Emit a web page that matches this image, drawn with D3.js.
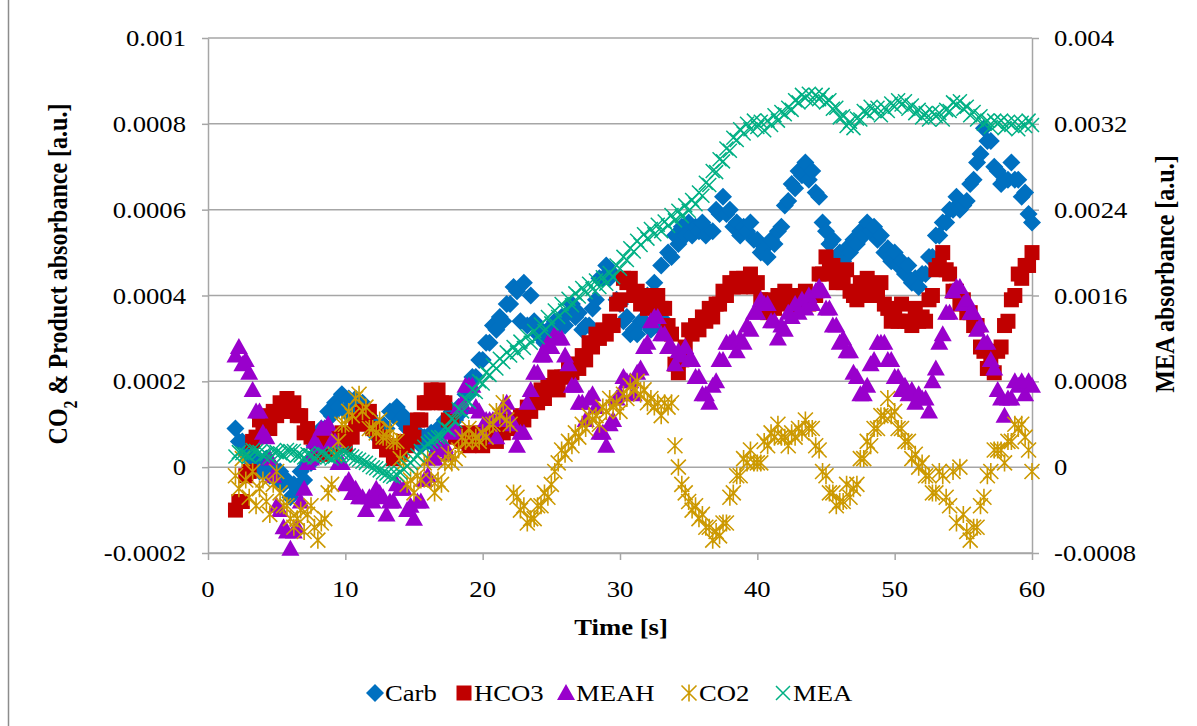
<!DOCTYPE html>
<html><head><meta charset="utf-8">
<script src="https://cdn.jsdelivr.net/npm/d3@7"></script>
<style>
body{margin:0;background:#fff;}
svg text{font-family:"Liberation Serif","Times New Roman",serif;fill:#000;}
</style></head><body>
<svg id="chart" width="1197" height="726"></svg>
<script>
// Time stamps of the spectra [s]
const TIME = [
  2.0,2.25,2.5,2.75,3.0,3.25,3.5,3.75,4.0,4.25,4.5,4.75,5.0,5.25,5.5,5.75,6.0,6.25,6.5,6.75,
  7.0,7.25,7.5,7.75,8.0,8.25,8.5,8.75,9.0,9.25,9.5,9.75,10.0,10.25,10.5,10.75,11.0,11.25,11.5,11.75,
  12.0,12.25,12.5,12.75,13.0,13.25,13.5,13.75,14.0,14.25,14.5,14.75,15.0,15.25,15.5,15.75,16.0,16.25,16.5,16.75,
  17.0,17.25,17.5,17.75,18.0,18.25,18.5,18.75,19.0,19.25,19.5,19.75,20.0,20.25,20.5,20.75,21.0,21.25,21.5,21.75,
  22.0,22.25,22.5,22.75,23.0,23.25,23.5,23.75,24.0,24.25,24.5,24.75,25.0,25.25,25.5,25.75,26.0,26.25,26.5,26.75,
  27.0,27.25,27.5,27.75,28.0,28.25,28.5,28.75,29.0,29.25,29.5,29.75,30.0,30.25,30.5,30.75,31.0,31.25,31.5,31.75,
  32.0,32.25,32.5,32.75,33.0,33.25,33.5,33.75,34.0,34.25,34.5,34.75,35.0,35.25,35.5,35.75,36.0,36.25,36.5,36.75,
  37.0,37.25,37.5,37.75,38.0,38.25,38.5,38.75,39.0,39.25,39.5,39.75,40.0,40.25,40.5,40.75,41.0,41.25,41.5,41.75,
  42.0,42.25,42.5,42.75,43.0,43.25,43.5,43.75,44.0,44.25,44.5,44.75,45.0,45.25,45.5,45.75,46.0,46.25,46.5,46.75,
  47.0,47.25,47.5,47.75,48.0,48.25,48.5,48.75,49.0,49.25,49.5,49.75,50.0,50.25,50.5,50.75,51.0,51.25,51.5,51.75,
  52.0,52.25,52.5,52.75,53.0,53.25,53.5,53.75,54.0,54.25,54.5,54.75,55.0,55.25,55.5,55.75,56.0,56.25,56.5,56.75,
  57.0,57.25,57.5,57.75,58.0,58.25,58.5,58.75,59.0,59.25,59.5,59.75,60.0
];

// All absorbance arrays below are in units of 1e-4 a.u.
const UNIT = 1e-4;

// Left axis series
const CARB = [
  0.9,0.6,0.6,0.3,0.4,0.1,0.2,-0.1,0.0,0.2,-0.2,0.0,-0.3,-0.1,-0.4,-0.3,-0.7,-0.4,-0.5,-0.1,
  -0.3,0.1,0.1,0.5,0.5,0.9,0.9,1.3,1.2,1.5,1.4,1.7,1.3,1.6,1.5,1.6,1.3,1.5,1.2,1.2,
  0.8,1.0,0.7,1.0,0.9,1.3,1.2,1.4,1.1,1.2,0.9,1.0,0.7,0.8,0.5,0.7,0.6,0.8,0.5,0.9,
  0.8,1.1,1.0,1.3,1.1,1.4,1.3,1.7,1.7,2.1,2.1,2.5,2.5,2.9,2.9,3.3,3.2,3.5,3.4,3.8,
  3.8,4.2,4.1,3.4,4.3,3.3,4.0,3.4,3.1,3.2,2.9,3.2,3.1,3.4,3.3,3.5,3.3,3.6,3.8,3.5,
  3.6,3.2,3.3,3.3,3.7,3.9,4.4,4.4,4.7,4.4,4.5,3.9,3.8,3.4,3.5,3.1,3.2,3.1,3.4,3.4,
  4.0,3.2,4.3,3.3,4.7,3.4,5.0,4.9,5.4,5.2,5.6,5.4,5.7,5.4,5.6,5.5,5.7,5.4,5.5,5.5,
  6.0,5.9,6.3,5.9,6.0,5.6,5.7,5.4,5.6,5.5,5.7,5.3,5.3,5.0,5.1,4.9,5.3,5.2,5.5,5.6,
  6.1,6.2,6.6,6.5,6.9,6.8,7.1,6.7,6.9,6.4,6.3,5.7,5.5,5.2,5.3,4.9,5.0,4.8,5.1,5.0,
  5.3,5.2,5.5,5.4,5.7,5.5,5.6,5.3,5.4,5.0,5.1,4.8,5.0,4.7,4.8,4.5,4.7,4.3,4.4,4.2,
  4.5,4.5,4.9,4.9,5.4,5.4,5.7,5.7,6.0,6.0,6.3,6.0,6.1,6.2,6.6,6.7,7.1,7.3,7.9,7.6,
  7.6,7.0,6.9,6.6,6.7,6.7,7.1,6.7,6.7,6.3,6.4,5.9,5.7
];
const HCO3 = [
  -1.0,-0.8,-0.8,-0.2,-0.1,0.6,0.7,1.1,1.0,1.2,0.9,1.3,1.2,1.5,1.3,1.6,1.3,1.5,1.2,1.2,
  0.8,0.9,0.7,0.7,0.4,0.5,0.3,0.6,0.4,0.7,0.6,0.8,0.5,0.8,0.7,1.1,1.0,1.3,1.2,1.3,
  0.9,0.9,0.6,0.7,0.4,0.5,0.2,0.4,0.3,0.6,0.5,0.8,0.7,1.1,1.1,1.5,1.5,1.8,1.6,1.8,
  1.5,1.5,1.1,1.1,0.7,0.8,0.6,0.7,0.5,0.8,0.6,0.7,0.5,0.8,0.7,0.9,0.6,0.9,0.8,1.1,
  0.9,1.0,0.9,1.2,1.1,1.4,1.3,1.6,1.5,1.8,1.6,1.9,1.9,2.1,1.8,2.1,2.1,2.4,2.2,2.4,
  2.3,2.6,2.5,2.9,2.8,3.1,3.0,3.2,3.1,3.4,3.3,3.8,3.9,4.4,4.3,4.4,4.0,4.1,3.8,3.9,
  3.7,4.0,3.8,4.0,3.7,3.7,3.3,3.1,2.4,2.2,2.5,2.8,3.2,3.1,3.3,3.2,3.5,3.4,3.7,3.5,
  3.8,3.8,4.1,4.0,4.3,4.2,4.4,4.2,4.4,4.3,4.5,4.2,4.3,3.9,3.9,3.6,3.8,3.7,4.0,3.9,
  4.1,3.8,3.9,3.7,4.0,3.9,4.1,3.8,4.0,4.0,4.5,4.5,4.9,4.6,4.7,4.3,4.4,4.3,4.6,4.1,
  4.0,3.9,4.3,4.2,4.4,4.0,4.1,4.0,4.3,3.8,3.7,3.4,3.5,3.4,3.8,3.4,3.4,3.3,3.7,3.4,
  3.5,3.4,3.9,4.0,4.6,4.7,5.0,4.6,4.5,4.1,4.1,3.8,3.9,3.6,3.6,3.3,3.3,2.8,2.7,2.3,
  2.4,2.2,2.7,2.8,3.3,3.4,3.9,4.0,4.5,4.4,4.7,4.7,5.0
];
const MEAH = [
  2.6,2.8,2.4,2.5,2.2,1.8,1.3,1.3,0.8,0.7,0.2,-0.2,-0.9,-1.0,-1.4,-1.5,-1.9,-1.5,-1.4,-0.8,
  -0.5,0.1,0.2,0.6,0.5,0.9,0.9,1.0,0.6,0.6,0.1,0.1,-0.4,-0.3,-0.6,-0.5,-0.7,-0.7,-1.0,-0.7,
  -0.8,-0.5,-0.6,-0.7,-1.1,-0.8,-0.8,-0.4,-0.5,-0.5,-1.0,-0.9,-1.2,-0.8,-0.8,-0.3,-0.2,0.2,0.2,0.5,
  0.4,0.5,0.3,0.8,0.9,1.4,1.5,1.9,1.9,1.9,1.4,1.3,0.8,1.1,1.1,1.1,0.7,1.2,1.4,1.5,
  1.1,1.0,0.5,0.8,0.8,1.5,1.8,2.2,2.2,2.6,2.6,2.9,2.8,3.1,3.0,3.0,2.6,2.4,1.9,1.9,
  1.5,1.5,1.1,1.6,1.7,1.4,0.8,0.8,0.5,1.0,1.1,1.6,1.7,2.1,2.0,2.0,1.7,2.2,2.3,2.8,
  2.9,3.4,3.5,3.5,3.1,3.1,2.8,2.8,2.4,2.7,2.6,2.8,2.5,2.5,2.1,2.1,1.7,1.7,1.5,1.9,
  2.0,2.5,2.5,2.9,2.9,3.0,2.7,3.0,2.9,3.3,3.2,3.6,3.6,3.9,3.8,3.8,3.4,3.4,3.0,3.3,
  3.2,3.6,3.5,3.8,3.6,3.9,3.7,4.0,3.8,4.1,4.2,4.1,3.7,3.7,3.3,3.3,2.9,3.0,2.7,2.7,
  2.2,2.1,1.7,1.7,1.9,2.4,2.5,2.9,2.9,2.9,2.5,2.5,2.1,2.1,1.8,1.9,1.7,1.8,1.5,1.7,
  1.6,1.6,1.3,2.0,2.3,2.9,3.1,3.6,3.6,4.1,4.2,4.2,3.8,3.9,3.6,3.6,3.2,3.3,2.9,2.9,
  2.5,2.3,1.8,1.6,1.2,1.6,1.6,2.0,1.9,2.0,1.7,2.0,1.9
];
const CO2 = [
  -0.2,-0.5,0.2,-0.3,-0.7,-0.1,-0.9,-0.5,-0.3,-0.8,-1.1,-0.4,-0.1,-0.6,-0.9,-0.9,-1.2,-1.4,-1.2,-1.0,
  -1.5,-1.1,-0.9,-1.4,-1.7,-1.3,-1.2,-0.6,-0.4,0.3,0.6,1.0,1.0,1.3,1.2,1.6,1.7,1.3,1.4,0.9,
  0.9,0.8,1.1,0.7,0.7,0.9,0.6,0.6,0.2,0.1,-0.4,-0.3,-0.6,-0.2,-0.3,0.1,0.2,-0.3,-0.6,-0.3,
  -0.4,0.1,0.3,0.1,0.2,0.4,0.7,0.6,0.9,0.6,0.7,0.6,0.8,0.7,1.0,1.0,1.3,1.2,1.5,1.1,
  1.0,-0.6,-0.7,-1.0,-0.9,-1.3,-1.2,-1.2,-0.9,-0.9,-0.6,-0.7,-0.4,-0.1,0.1,0.4,0.3,0.6,0.5,0.8,
  0.7,1.0,0.9,1.2,1.1,1.2,1.0,1.4,1.3,1.6,1.4,1.5,1.3,1.7,1.6,1.9,1.8,2.0,1.7,1.8,
  1.5,1.6,1.4,1.5,1.2,1.5,1.4,1.5,0.5,0.0,-0.4,-0.6,-0.8,-1.0,-0.9,-1.2,-1.1,-1.4,-1.4,-1.7,
  -1.5,-1.6,-1.3,-1.3,-0.7,-0.6,-0.2,-0.2,0.2,0.1,0.4,0.1,0.1,0.1,0.6,0.5,0.8,0.7,1.0,0.7,
  0.7,0.5,0.8,0.7,0.9,0.8,1.1,0.9,0.9,0.5,0.4,-0.1,-0.2,-0.6,-0.6,-0.9,-0.8,-0.8,-0.4,-0.7,
  -0.5,-0.4,0.2,0.2,0.6,0.5,0.9,0.9,1.2,1.2,1.6,1.2,1.3,0.9,0.9,0.6,0.6,0.2,0.3,0.0,
  0.1,-0.2,-0.2,-0.6,-0.6,-0.1,-0.2,-0.7,-0.9,-0.1,-1.3,0.0,-1.1,-1.5,-1.7,-1.4,-1.4,-0.9,-0.7,-0.2,
  -0.1,0.4,0.4,0.4,0.1,0.6,0.6,1.0,0.9,1.0,0.7,0.4,-0.1
];
// Right axis series
const MEA = [
  1.0,1.4,1.3,1.2,1.0,1.6,1.5,1.4,1.1,1.2,0.9,1.5,1.4,1.3,1.1,1.6,1.5,1.5,1.1,1.1,
  0.9,1.2,1.1,0.9,1.0,1.3,1.2,1.0,0.8,1.0,1.1,1.3,1.3,1.1,1.0,0.8,0.7,0.5,0.4,0.2,
  0.0,-0.1,-0.3,-0.5,-0.6,-0.8,-0.9,-0.7,-0.5,-0.2,0.1,0.4,0.7,1.1,1.5,1.9,2.2,2.4,2.6,2.8,
  2.8,3.7,3.5,4.5,4.3,5.4,5.2,6.3,6.1,7.2,7.0,8.0,7.8,8.8,8.6,9.5,9.2,10.1,9.8,10.7,
  10.4,11.2,10.7,11.7,11.1,12.2,11.6,12.7,12.1,13.3,12.7,14.0,13.4,14.6,14.0,15.2,14.6,15.7,15.1,16.2,
  15.9,16.7,16.3,17.1,16.6,17.4,16.8,17.7,17.1,18.1,17.7,18.8,18.5,19.6,19.3,20.4,20.1,21.1,20.7,21.7,
  21.3,22.2,21.7,22.6,22.0,22.9,22.5,23.5,23.0,23.9,23.4,24.4,23.9,24.9,24.5,25.6,25.3,26.5,26.3,27.6,
  27.5,28.7,28.5,29.7,29.5,30.7,30.5,31.5,31.1,32.0,31.5,32.3,31.7,32.2,31.4,32.3,31.9,32.8,32.3,33.1,
  32.9,33.5,33.3,34.2,34.0,34.7,34.4,34.8,34.1,34.7,34.3,34.7,34.0,34.2,33.4,33.5,32.6,32.7,31.8,32.2,
  31.6,32.5,32.4,33.2,33.0,33.6,33.2,33.5,32.8,33.5,33.2,33.9,33.6,34.2,33.8,34.1,33.4,33.7,33.0,33.3,
  32.6,33.0,32.4,33.1,32.7,33.0,32.4,33.3,33.2,34.0,33.8,34.1,33.4,33.6,32.8,33.1,32.4,32.7,32.0,32.3,
  31.7,32.3,32.0,32.3,31.6,32.2,31.9,32.2,31.5,32.1,31.8,32.3,31.9
];

// Axis ticks and labels
const X_TICKS = [0, 10, 20, 30, 40, 50, 60];
const YL_TICKS = [-0.0002, 0, 0.0002, 0.0004, 0.0006, 0.0008, 0.001];
const YL_LABELS = ["-0.0002", "0", "0.0002", "0.0004", "0.0006", "0.0008", "0.001"];
const YR_TICKS = [-0.0008, 0, 0.0008, 0.0016, 0.0024, 0.0032, 0.004];
const YR_LABELS = ["-0.0008", "0", "0.0008", "0.0016", "0.0024", "0.0032", "0.004"];
const SERIES_NAMES = ["Carb", "HCO3", "MEAH", "CO2", "MEA"];

const W = 1197, H = 726;
const M = {left: 208, right: 1032, top: 38, bottom: 553};
const SX = 1.16;         // horizontal stretch of the lettering
const FS = 23;           // font size
const TITLE_Y = 274;     // centre of the vertical axis titles
const GRID = "#A6A6A6";

const x = d3.scaleLinear().domain([0, 60]).range([M.left, M.right]);
const yL = d3.scaleLinear().domain([-0.0002, 0.001]).range([M.bottom, M.top]);
const yR = d3.scaleLinear().domain([-0.0008, 0.004]).range([M.bottom, M.top]);

const svg = d3.select("#chart");
svg.append("rect").attr("width", W).attr("height", H).attr("fill", "#fff");
// chart frame edge
svg.append("line").attr("x1", 8.5).attr("x2", 8.5).attr("y1", 0).attr("y2", H)
  .attr("stroke", "#8C8C8C").attr("stroke-width", 1.5);

// horizontal gridlines
svg.append("g").selectAll("line").data(YL_TICKS).join("line")
  .attr("x1", M.left).attr("x2", M.right)
  .attr("y1", d => yL(d)).attr("y2", d => yL(d))
  .attr("stroke", GRID).attr("stroke-width", 1.5);

function styleAxis(g) {
  g.selectAll("path.domain").attr("stroke", GRID).attr("stroke-width", 1.5);
  g.selectAll(".tick line").attr("stroke", GRID).attr("stroke-width", 1.5);
  g.selectAll(".tick text").remove();
}
svg.append("g").attr("transform", `translate(${M.left},0)`)
  .call(d3.axisLeft(yL).tickValues(YL_TICKS).tickSize(6).tickSizeOuter(0)).call(styleAxis);
svg.append("g").attr("transform", `translate(0,${M.bottom})`)
  .call(d3.axisBottom(x).tickValues(X_TICKS).tickSize(7).tickSizeOuter(0)).call(styleAxis);
svg.append("g").attr("transform", `translate(${M.right},0)`)
  .call(d3.axisRight(yR).tickValues(YR_TICKS).tickSize(7).tickSizeOuter(0)).call(styleAxis);

// text helper: lettering is stretched horizontally
function label(g, tx, ty, txt, anchor, opts = {}) {
  return g.append("text")
    .attr("transform", `translate(${tx},${ty}) scale(${SX},1)${opts.rotate ? " rotate(-90)" : ""}`)
    .attr("text-anchor", anchor)
    .attr("dy", opts.dy || "0.35em")
    .attr("font-size", opts.size || FS)
    .attr("font-weight", opts.bold ? "bold" : null)
    .text(txt);
}
const lab = svg.append("g");
YL_TICKS.forEach((d, i) => label(lab, 186, yL(d), YL_LABELS[i], "end"));
YR_TICKS.forEach((d, i) => label(lab, 1054, yR(d), YR_LABELS[i], "start"));
X_TICKS.forEach(d => label(lab, x(d), 589, String(d), "middle"));

// axis titles
const lt = label(lab, 57, TITLE_Y, "", "middle", {rotate: true, bold: true, size: 24});
lt.append("tspan").text("CO");
lt.append("tspan").attr("baseline-shift", "sub").attr("font-size", 16).text("2");
lt.append("tspan").text(" & Product absorbance [a.u.]");
label(lab, 1164, TITLE_Y, "MEA absorbance [a.u.]", "middle", {rotate: true, bold: true, size: 24});
label(lab, 621, 627, "Time [s]", "middle", {bold: true});

// marker shapes
const SHAPES = {
  Carb: {d: "M0,-9L9,0L0,9L-9,0Z", fill: "#0070C0", stroke: "none"},
  HCO3: {d: "M-7.5,-7.5H7.5V7.5H-7.5Z", fill: "#C00000", stroke: "none"},
  MEAH: {d: "M0,-9L9,7L-9,7Z", fill: "#9900CC", stroke: "none"},
  CO2:  {d: "M0,-8.5V8.5M-7.5,-7.5L7.5,7.5M-7.5,7.5L7.5,-7.5", fill: "none", stroke: "#CC9900", sw: 1.6},
  MEA:  {d: "M-7,-7L7,7M-7,7L7,-7", fill: "none", stroke: "#00B084", sw: 1.5}
};
const SERIES = [
  {name: "Carb", values: CARB, y: yL},
  {name: "HCO3", values: HCO3, y: yL},
  {name: "MEAH", values: MEAH, y: yL},
  {name: "CO2",  values: CO2,  y: yL},
  {name: "MEA",  values: MEA,  y: yR}
];
SERIES.forEach(s => {
  const sh = SHAPES[s.name];
  svg.append("g").selectAll("path")
    .data(s.values.map((v, i) => [TIME[i], v * UNIT]))
    .join("path")
    .attr("transform", d => `translate(${x(d[0])},${s.y(d[1])})`)
    .attr("d", sh.d)
    .attr("fill", sh.fill)
    .attr("stroke", sh.stroke)
    .attr("stroke-width", sh.sw || 0);
});

// legend
const LEG_X = [375, 464, 566, 689, 783];
const legY = 693;
const leg = svg.append("g");
SERIES_NAMES.forEach((n, i) => {
  const sh = SHAPES[n];
  leg.append("path").attr("transform", `translate(${LEG_X[i]},${legY})`)
    .attr("d", sh.d).attr("fill", sh.fill).attr("stroke", sh.stroke).attr("stroke-width", sh.sw || 0);
  label(leg, LEG_X[i] + 10, legY, n, "start");
});
</script>
</body></html>
